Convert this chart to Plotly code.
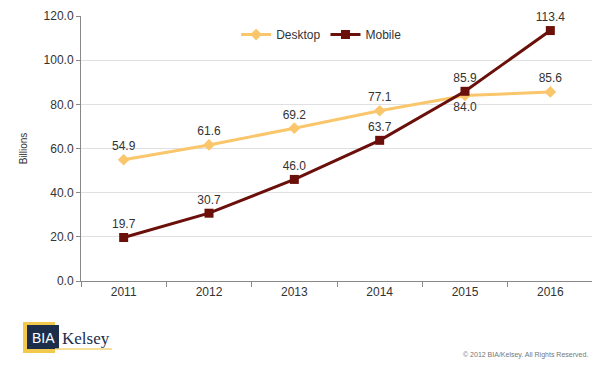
import plotly.graph_objects as go

years = ["2011", "2012", "2013", "2014", "2015", "2016"]
desktop = [54.9, 61.6, 69.2, 77.1, 84.0, 85.6]
mobile = [19.7, 30.7, 46.0, 63.7, 85.9, 113.4]
desktop_pos = ["top center"] * 4 + ["bottom center", "top center"]
mobile_pos = ["top center"] * 6
y_ticks = [0, 20, 40, 60, 80, 100, 120]

font = "Liberation Sans, Arial, sans-serif"
fig = go.Figure()
fig.add_trace(go.Scatter(
    x=years, y=desktop, name="Desktop", mode="lines+markers+text",
    line=dict(color="#F9C66B", width=3),
    marker=dict(symbol="diamond", size=9, color="#F9C66B"),
    text=[f"{v:.1f}" for v in desktop], textposition=desktop_pos,
    textfont=dict(size=12, color="#333333", family=font), cliponaxis=False,
))
fig.add_trace(go.Scatter(
    x=years, y=mobile, name="Mobile", mode="lines+markers+text",
    line=dict(color="#6B0F0A", width=3),
    marker=dict(symbol="square", size=9, color="#6B0F0A"),
    text=[f"{v:.1f}" for v in mobile], textposition=mobile_pos,
    textfont=dict(size=12, color="#333333", family=font), cliponaxis=False,
))

fig.update_layout(
    width=592, height=357,
    margin=dict(l=73, r=7, t=8, b=84, autoexpand=False),
    paper_bgcolor="white", plot_bgcolor="white",
    font=dict(family=font, size=12, color="#333333"),
    showlegend=True,
    legend=dict(orientation="h", x=0.47, xanchor="center", y=0.93, yanchor="middle",
                font=dict(size=12), bgcolor="rgba(0,0,0,0)", itemwidth=30),
    xaxis=dict(type="category", showgrid=False, showline=True, linecolor="#888888",
               ticks="outside", tickson="boundaries", ticklen=5, tickcolor="#888888",
               tickfont=dict(size=12), range=[-0.5, 5.5], automargin=False),
    yaxis=dict(range=[0, 120], tickvals=y_ticks, tickformat=".1f",
               showgrid=True, gridcolor="#E0E0E0", showline=True, linecolor="#888888",
               ticks="outside", ticklen=4, tickcolor="#888888", zeroline=False,
               tickfont=dict(size=12), automargin=False,
               title=dict(text="Billions", font=dict(size=10), standoff=14)),
)

# Logo
fig.add_shape(type="rect", xref="paper", yref="paper",
              x0=(23-81)/512, x1=(55-81)/512, y0=(281-353)/265, y1=(281-322)/265,
              fillcolor="#F2C94C", line=dict(width=0), layer="above")
fig.add_shape(type="rect", xref="paper", yref="paper",
              x0=(27-81)/512, x1=(59-81)/512, y0=(281-349)/265, y1=(281-325)/265,
              fillcolor="#1C2E4A", line=dict(width=0), layer="above")
fig.add_shape(type="line", xref="paper", yref="paper",
              x0=(55-81)/512, x1=(112-81)/512, y0=(281-349)/265, y1=(281-349)/265,
              line=dict(color="#F2D57A", width=1.5), layer="above")
fig.add_annotation(xref="paper", yref="paper", x=(43-81)/512, y=(281-338)/265,
                   text="BIA", showarrow=False, xanchor="center", yanchor="middle",
                   font=dict(family="Liberation Sans, Arial", size=14, color="white"))
fig.add_annotation(xref="paper", yref="paper", x=(60-81)/512, y=(281-338)/265,
                   text="Kelsey", showarrow=False, xanchor="left", yanchor="middle",
                   font=dict(family="Liberation Serif, Times New Roman, serif", size=17, color="#1C2E4A"))
fig.add_annotation(xref="paper", yref="paper", x=(590-81)/512, y=(281-355)/265,
                   text="© 2012 BIA/Kelsey. All Rights Reserved.", showarrow=False,
                   xanchor="right", yanchor="middle",
                   font=dict(size=7, color="#777777"))

fig.write_html("out.html")
